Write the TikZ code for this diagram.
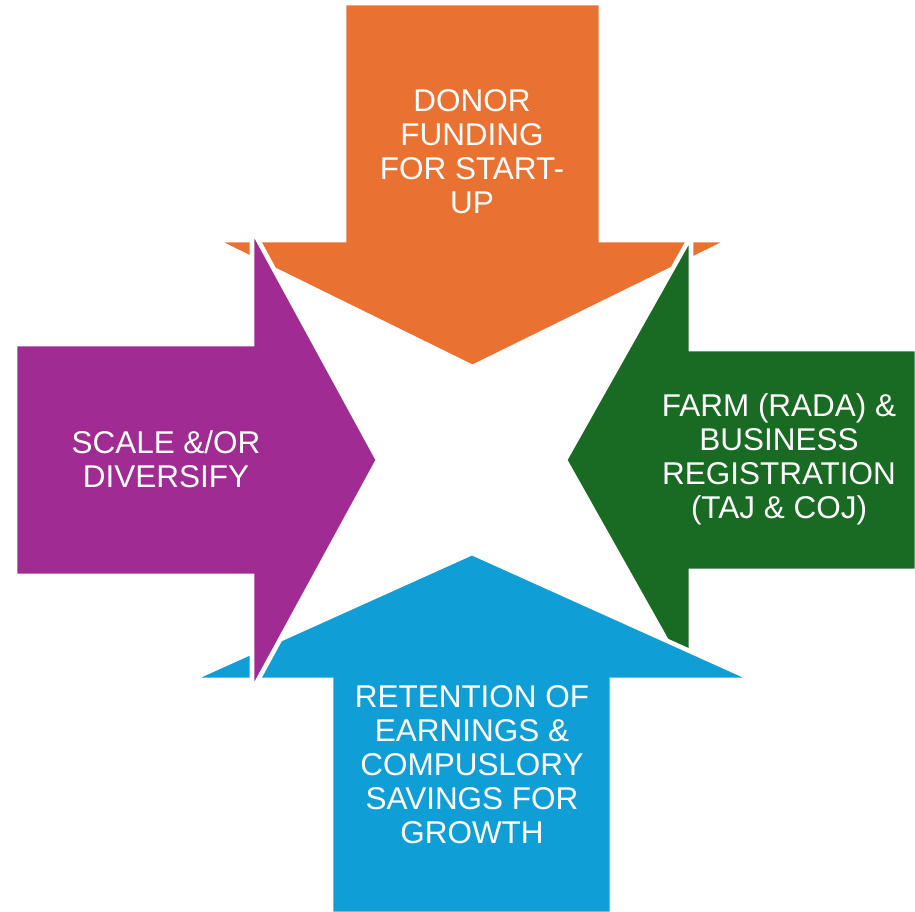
\documentclass[tikz,border=0pt]{standalone}
\usepackage{fontspec}
\setmainfont{Liberation Sans}
\definecolor{accOrange}{HTML}{E97132}
\definecolor{accGreen}{HTML}{196B24}
\definecolor{accBlue}{HTML}{0F9ED5}
\definecolor{accPurple}{HTML}{A02B93}
\tikzset{every picture/.style={line width=0.75pt}}
\tikzset{
  arrowshape/.style={draw=white, line width=3.4pt, line join=miter},
  arrowtext/.style={text=white, inner sep=0.75pt, align=center, font=\fontsize{23.6}{25.5}\selectfont}
}
\begin{document}
\begin{tikzpicture}[x=0.75pt,y=0.75pt,yscale=-1,xscale=1]
\useasboundingbox (0,0) rectangle (915,912);

%Shape: Down Arrow [id:top]
\draw [arrowshape, fill=accOrange]  (344,3) -- (601,3) -- (601,240) -- (731,240) -- (472.5,367) -- (214,240) -- (344,240) -- cycle ;
%Shape: Left Arrow [id:right]
\draw [arrowshape, fill=accGreen]  (917,349) -- (691,349) -- (691,236) -- (565,460) -- (691,684) -- (691,571) -- (917,571) -- cycle ;
%Shape: Up Arrow [id:bottom]
\draw [arrowshape, fill=accBlue]  (331,914) -- (331,680) -- (190,680) -- (472,553) -- (754,680) -- (612,680) -- (612,914) -- cycle ;
%Shape: Right Arrow [id:left]
\draw [arrowshape, fill=accPurple]  (15,344) -- (252,344) -- (252,229) -- (378,460) -- (252,691) -- (252,576) -- (15,576) -- cycle ;

% Text Node
\node (donor) [arrowtext] at (472,152) {DONOR\\FUNDING\\FOR START-\\UP};
% Text Node
\node (farm) [arrowtext] at (779,459) {FARM (RADA) \&\\BUSINESS\\REGISTRATION\\(TAJ \& COJ)};
% Text Node
\node (retention) [arrowtext] at (472,765) {RETENTION OF\\EARNINGS \&\\COMPUSLORY\\SAVINGS FOR\\GROWTH};
% Text Node
\node (scale) [arrowtext] at (166,459) {SCALE \&/OR\\DIVERSIFY};

\end{tikzpicture}
\end{document}
